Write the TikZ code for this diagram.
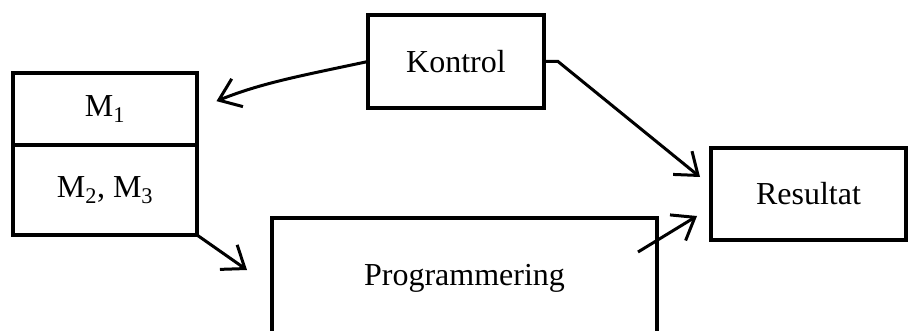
\documentclass[tikz,border=0pt]{standalone}
\usepackage{fontspec}
\setmainfont{Liberation Serif}
\usetikzlibrary{arrows.meta}
\begin{document}
\begin{tikzpicture}[x=1pt,y=-1pt,line width=3pt,
    box/.style={draw,rectangle,line width=3.2pt,inner sep=0pt,outer sep=0pt,font=\fontsize{32}{36}\selectfont},
    arr/.style={line width=3pt,-{Straight Barb[length=20pt,width=30pt,line width=3pt]}}]
            \useasboundingbox (0,0) rectangle (909,331);
            \clip (0,0) rectangle (909,331);
            % Khung
            \node[box,minimum width=184pt,minimum height=72pt] (m1) at (105,109) {M\textsubscript{1}};
            \node[box,minimum width=184pt,minimum height=90pt,anchor=north] (m23) at (m1.south) {M\textsubscript{2}, M\textsubscript{3}};
            \node[box,minimum width=176pt,minimum height=93pt] (kontrol) at (456,61.5) {Kontrol};
            \node[box,minimum width=195pt,minimum height=92pt] (resultat) at (808.5,194) {Resultat};
            \node[box,minimum width=385pt,minimum height=120pt] (prog) at (464.5,278) {Programmering};
            % Pile
            \draw[arr,shorten >=21pt] (kontrol.west) to[out=192,in=22] (m1.east);
            \draw[arr] (kontrol.east) -- ++(14,0) -- ([xshift=-11pt,yshift=17pt]resultat.west);
            \draw[arr] (m23.south east) -- ([xshift=-25pt,yshift=-52pt]prog.north west);
            \draw[arr] ([xshift=-19pt,yshift=-34pt]prog.north east) -- ([xshift=-14pt,yshift=-22pt]resultat.west);
    \end{tikzpicture}
\end{document}
